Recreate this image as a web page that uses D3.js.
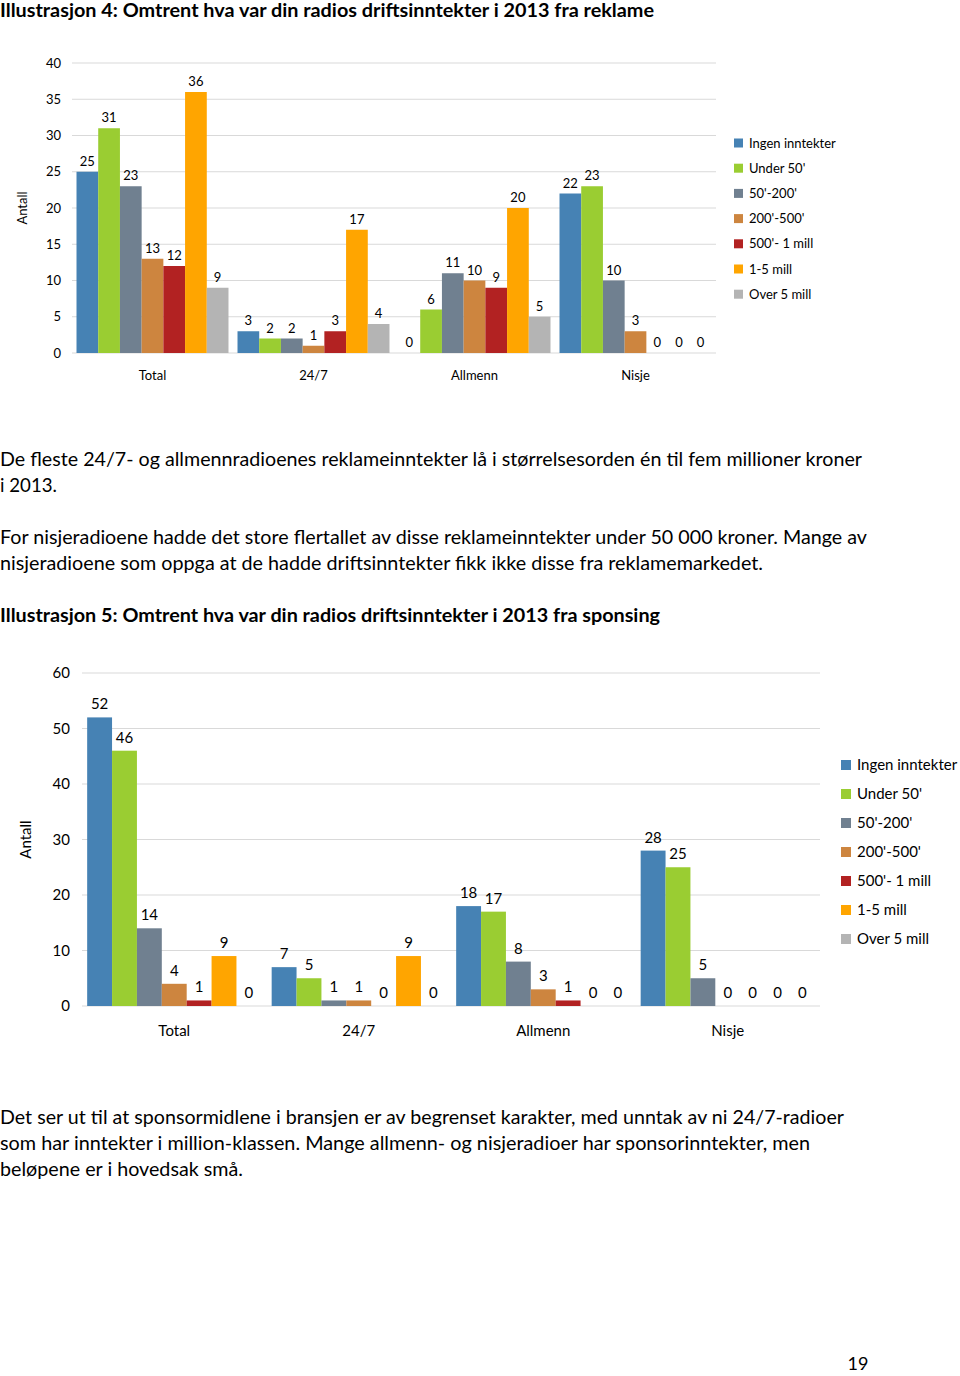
<!DOCTYPE html>
<html><head><meta charset="utf-8">
<script src="https://cdn.jsdelivr.net/npm/d3@7"></script>
<style>
body{margin:0;background:#fff;}
svg{display:block;font-family:Lato,"Open Sans",sans-serif;}
</style></head>
<body>
<svg id="page" width="960" height="1376"></svg>
<script>
// ---- data ----
const categories = ["Total", "24/7", "Allmenn", "Nisje"];
const seriesNames = ["Ingen inntekter", "Under 50'", "50'-200'", "200'-500'", "500'- 1 mill", "1-5 mill", "Over 5 mill"];
const seriesColors = ["#4682b4", "#9acd32", "#708090", "#cd853f", "#b22222", "#ffa500", "#b4b4b4"];

// Illustrasjon 4: reklame (rows = categories, cols = series)
const reklameTotal   = [25, 31, 23, 13, 12, 36, 9];
const reklame247     = [3, 2, 2, 1, 3, 17, 4];
const reklameAllmenn = [0, 6, 11, 10, 9, 20, 5];
const reklameNisje   = [22, 23, 10, 3, 0, 0, 0];
const reklameTicks   = [0, 5, 10, 15, 20, 25, 30, 35, 40];

// Illustrasjon 5: sponsing
const sponsTotal   = [52, 46, 14, 4, 1, 9, 0];
const spons247     = [7, 5, 1, 1, 0, 9, 0];
const sponsAllmenn = [18, 17, 8, 3, 1, 0, 0];
const sponsNisje   = [28, 25, 5, 0, 0, 0, 0];
const sponsTicks   = [0, 10, 20, 30, 40, 50, 60];

const title4 = "Illustrasjon 4: Omtrent hva var din radios driftsinntekter i 2013 fra reklame";
const title5 = "Illustrasjon 5: Omtrent hva var din radios driftsinntekter i 2013 fra sponsing";
const para1 = [
  "De fleste 24/7- og allmennradioenes reklameinntekter lå i størrelsesorden én til fem millioner kroner",
  "i 2013."
];
const para2 = [
  "For nisjeradioene hadde det store flertallet av disse reklameinntekter under 50 000 kroner. Mange av",
  "nisjeradioene som oppga at de hadde driftsinntekter fikk ikke disse fra reklamemarkedet."
];
const para3 = [
  "Det ser ut til at sponsormidlene i bransjen er av begrenset karakter, med unntak av ni 24/7-radioer",
  "som har inntekter i million-klassen. Mange allmenn- og nisjeradioer har sponsorinntekter, men",
  "beløpene er i hovedsak små."
];
const yLabel = "Antall";
const pageNumber = "19";

// ---- drawing ----
const svg = d3.select("#page");

function textLine(str, x, y, size, weight, len) {
  const t = svg.append("text").attr("x", x).attr("y", y)
    .attr("font-size", size).attr("font-weight", weight || "normal")
    .attr("fill", "#000").text(str);
  if (len) t.attr("textLength", len).attr("lengthAdjust", "spacingAndGlyphs");
  return t;
}

textLine(title4, 0, 17, 18, "bold", 654);
textLine(para1[0], 0, 466, 19, "normal", 862);
textLine(para1[1], 0, 492, 19, "normal", 57);
textLine(para2[0], 0, 544, 19, "normal", 867);
textLine(para2[1], 0, 570, 19, "normal", 763);
textLine(title5, 0, 622, 19, "bold", 660);
textLine(para3[0], 0, 1124, 19, "normal", 844);
textLine(para3[1], 0, 1150, 19, "normal", 810);
textLine(para3[2], 0, 1176, 19, "normal", 243);
svg.append("text").attr("x", 858).attr("y", 1370).attr("text-anchor", "middle")
  .attr("font-size", 18).text(pageNumber);

function drawChart(o) {
  const g = svg.append("g");
  const y = d3.scaleLinear().domain([0, o.ticks[o.ticks.length - 1]]).range([o.y0, o.y1]);
  const x = d3.scaleBand().domain(categories).range([o.x0, o.x1]).paddingInner(0.056).paddingOuter(0.028);
  const xs = d3.scaleBand().domain(seriesNames).range([0, x.bandwidth()]);

  // gridlines
  g.append("g").selectAll("line").data(o.ticks).join("line")
    .attr("x1", o.x0).attr("x2", o.x1)
    .attr("y1", d => y(d)).attr("y2", d => y(d))
    .attr("stroke", "#d9d9d9").attr("stroke-width", 1.2);

  // y axis
  const ax = g.append("g").attr("transform", `translate(${o.x0},0)`)
    .call(d3.axisLeft(y).tickValues(o.ticks).tickSize(0).tickPadding(o.tickPad));
  ax.select(".domain").remove();
  ax.selectAll("text").attr("font-size", o.fs).attr("font-family", "Lato,'Open Sans',sans-serif").attr("fill", "#000");

  // y label
  g.append("text").attr("transform", `translate(${o.ylx},${(o.y0 + o.y1) / 2}) rotate(-90)`)
    .attr("text-anchor", "middle").attr("dy", "0.35em").attr("font-size", o.fs).text(yLabel);

  // bars
  const groups = g.append("g").selectAll("g").data(o.rows.map((r, i) => ({cat: categories[i], vals: r})))
    .join("g").attr("transform", d => `translate(${x(d.cat)},0)`);
  groups.selectAll("rect").data(d => d.vals.map((v, j) => ({v, s: seriesNames[j], c: seriesColors[j]})))
    .join("rect")
    .attr("x", d => xs(d.s)).attr("width", xs.bandwidth())
    .attr("y", d => y(d.v)).attr("height", d => y(0) - y(d.v))
    .attr("fill", d => d.c);
  groups.selectAll("text").data(d => d.vals.map((v, j) => ({v, s: seriesNames[j]})))
    .join("text")
    .attr("x", d => xs(d.s) + xs.bandwidth() / 2)
    .attr("y", d => y(d.v) - o.labOff)
    .attr("text-anchor", "middle").attr("font-size", o.fs).text(d => d.v);

  // category labels
  g.append("g").selectAll("text").data(categories).join("text")
    .attr("x", d => x(d) + x.bandwidth() / 2).attr("y", o.catY)
    .attr("text-anchor", "middle").attr("font-size", o.fs).text(d => d);

  // legend
  const lg = g.append("g").selectAll("g").data(seriesNames).join("g")
    .attr("transform", (d, i) => `translate(${o.legX},${o.legY + i * o.legStep})`);
  lg.append("rect").attr("x", 0).attr("y", -o.sq / 2).attr("width", o.sq).attr("height", o.sq)
    .attr("fill", (d, i) => seriesColors[i]);
  lg.append("text").attr("x", o.sq + 6).attr("dy", "0.35em").attr("font-size", o.fs).text(d => d);
}

drawChart({
  rows: [reklameTotal, reklame247, reklameAllmenn, reklameNisje],
  ticks: reklameTicks, x0: 72, x1: 716, y0: 353, y1: 63, tickPad: 11, fs: 13,
  ylx: 22, labOff: 6, catY: 380, legX: 734, legY: 143, legStep: 25.2, sq: 9
});

drawChart({
  rows: [sponsTotal, spons247, sponsAllmenn, sponsNisje],
  ticks: sponsTicks, x0: 82, x1: 820, y0: 1006, y1: 673, tickPad: 12, fs: 15,
  ylx: 26, labOff: 8, catY: 1036, legX: 841, legY: 765, legStep: 29, sq: 10
});
</script>
</body></html>
